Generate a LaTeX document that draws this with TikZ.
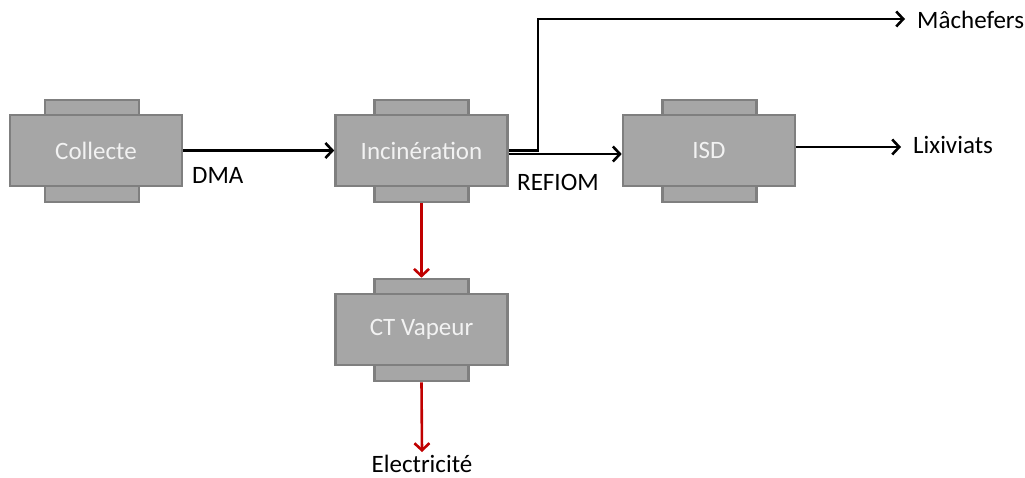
\documentclass[tikz,border=0pt]{standalone}
\usepackage{fontspec}
\setmainfont{Carlito}
\usetikzlibrary{arrows.meta}
\definecolor{boxfill}{HTML}{A6A6A6}
\definecolor{boxline}{HTML}{7F7F7F}
\definecolor{flowred}{HTML}{C00000}
\definecolor{boxtext}{HTML}{F2F2F2}
\begin{document}
\begin{tikzpicture}[x=1pt,y=-1pt,
  box/.style={draw=boxline, fill=boxfill, line width=2.6pt, minimum width=172pt, minimum height=71pt, inner sep=0pt, text=boxtext, font=\fontsize{25}{29}\selectfont},
  tabbox/.style={draw=boxline, fill=boxfill, line width=2.6pt, minimum width=94pt, minimum height=102pt, inner sep=0pt},
  flow/.style={line width=2.6pt, -{Straight Barb[length=7pt,width=15pt,line width=2.6pt]}},
  lbl/.style={font=\fontsize{25}{29}\selectfont, inner sep=0pt}]
\useasboundingbox (0,0) rectangle (1025,478);
% tabs
\node[tabbox] (coltab) at (92,151) {};
\node[tabbox] (inctab) at (421.5,151) {};
\node[tabbox] (isdtab) at (709.5,151) {};
\node[tabbox] (cttab) at (421.5,330) {};
% boxes
\node[box] (col) at (96,150.5) {Collecte};
\node[box] (inc) at (421.5,150.5) {Incinération};
\node[box] (isd) at (709,150.5) {ISD};
\node[box] (ct) at (421.5,329.5) {CT Vapeur};
% labels
\node[lbl, anchor=west] (dma) at (192,175) {DMA};
\node[lbl, anchor=west] (refiom) at (517,182) {REFIOM};
\node[lbl, anchor=west] (mach) at (917,20) {Mâchefers};
\node[lbl, anchor=west] (lix) at (913,145) {Lixiviats};
\node[lbl, anchor=north] (elec) at (422,455) {Electricité};
\coordinate (bend) at (538,19);
% connectors
\draw[flow] (col.east) -- (inc.west);
\draw[flow] ([yshift=-3.5pt]inc.east) -- ([yshift=-3.5pt]isd.west);
\draw[flow] (inc.east) -| (bend) -- ([xshift=-12pt]mach.west |- bend);
\draw[flow] ([yshift=3.5pt]isd.east) -- ([xshift=-12pt,yshift=-2pt]lix.west);
\draw[flow, draw=flowred] (inctab.south) -- (cttab.north);
\draw[flow, draw=flowred] (cttab.south) -- ([yshift=3pt]elec.north);
\end{tikzpicture}
\end{document}
